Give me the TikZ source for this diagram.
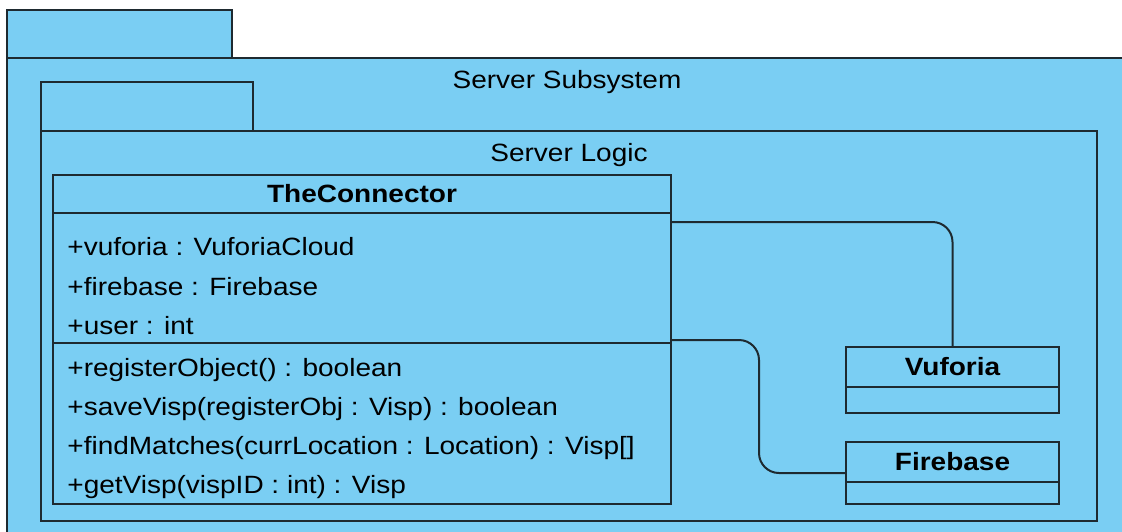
\documentclass[tikz,border=0pt]{standalone}
\usepackage{fontspec}
\usepackage{graphicx}
\setmainfont{Liberation Sans}
\usetikzlibrary{positioning}
\definecolor{pkgblue}{HTML}{7ACEF3}
\definecolor{edgegray}{HTML}{1E2A30}
\newcommand{\widetext}[1]{\scalebox{1.12}[1]{#1}}

\begin{document}
\begin{tikzpicture}[
  x=0.5pt, y=-0.5pt,
  pkg/.style={rectangle, draw=edgegray, line width=1.1pt, fill=pkgblue, inner sep=0pt, outer sep=0pt, anchor=north west},
  cls/.style={rectangle, draw=edgegray, line width=1pt, fill=pkgblue, inner sep=0pt, outer sep=0pt, anchor=north west, font=\fontsize{12.5}{15}\selectfont},
  title/.style={font=\fontsize{12.5}{15}\selectfont, inner sep=0pt},
  member/.style={font=\fontsize{12.5}{15}\selectfont, inner sep=0pt, anchor=west},
  link/.style={draw=edgegray, line width=1pt, rounded corners=10pt}
]
  \clip (0,0) rectangle (1122,531);
  \fill[white] (0,0) rectangle (1122,531);

  % Server Subsystem package
  \node[pkg, minimum width=112.5pt, minimum height=24pt] (subtab) at (7,10) {};
  \node[pkg, minimum width=560pt, minimum height=240pt] (subsys) at (7,58) {};
  \node[title] (subname) at ([yshift=-12pt]subsys.north) {\widetext{Server Subsystem}};

  % Server Logic package
  \node[pkg, minimum width=106pt, minimum height=24.5pt] (logtab) at (41,82) {};
  \node[pkg, minimum width=528pt, minimum height=195pt] (logic) at (41,131) {};
  \node[title] (logname) at ([yshift=-12pt]logic.north) {\widetext{Server Logic}};

  % TheConnector class
  \node[cls, minimum width=309pt, minimum height=19pt, font=\fontsize{12.5}{15}\selectfont\bfseries] (conhead) at (53,175) {\widetext{TheConnector}};
  \node[cls, minimum width=309pt, minimum height=65pt] (conattr) at (conhead.south west) {};
  \node[cls, minimum width=309pt, minimum height=80.5pt] (conops) at (conattr.south west) {};
  \foreach \txt [count=\i] in {+vuforia : VuforiaCloud, +firebase : Firebase, +user : int}
    \node[member] (attr\i) at ([xshift=7pt, yshift={-17pt-(\i-1)*19.7pt}]conattr.north west) {\widetext{\txt}};
  \foreach \txt [count=\i] in {+registerObject() : boolean, +saveVisp(registerObj : Visp) : boolean, +findMatches(currLocation : Location) : Visp[], +getVisp(vispID : int) : Visp}
    \node[member] (op\i) at ([xshift=7pt, yshift={-13.5pt-(\i-1)*19.5pt}]conops.north west) {\widetext{\txt}};

  % Vuforia and Firebase classes
  \node[cls, minimum width=106.5pt, minimum height=20pt, font=\fontsize{12.5}{15}\selectfont\bfseries] (vufhead) at (846,347) {\widetext{Vuforia}};
  \node[cls, minimum width=106.5pt, minimum height=13pt] (vufbody) at (vufhead.south west) {};
  \node[cls, minimum width=106.5pt, minimum height=20pt, font=\fontsize{12.5}{15}\selectfont\bfseries] (fbhead) at (846,442) {\widetext{Firebase}};
  \node[cls, minimum width=106.5pt, minimum height=11pt] (fbbody) at (fbhead.south west) {};

  % associations
  \draw[link] ([yshift=-4.5pt]conattr.north east) -| (vufhead.north);
  \draw[link] ([yshift=1.5pt]conattr.south east) -- ++(44pt,0) |- ([yshift=-5.5pt]fbhead.west);
\end{tikzpicture}
\end{document}
